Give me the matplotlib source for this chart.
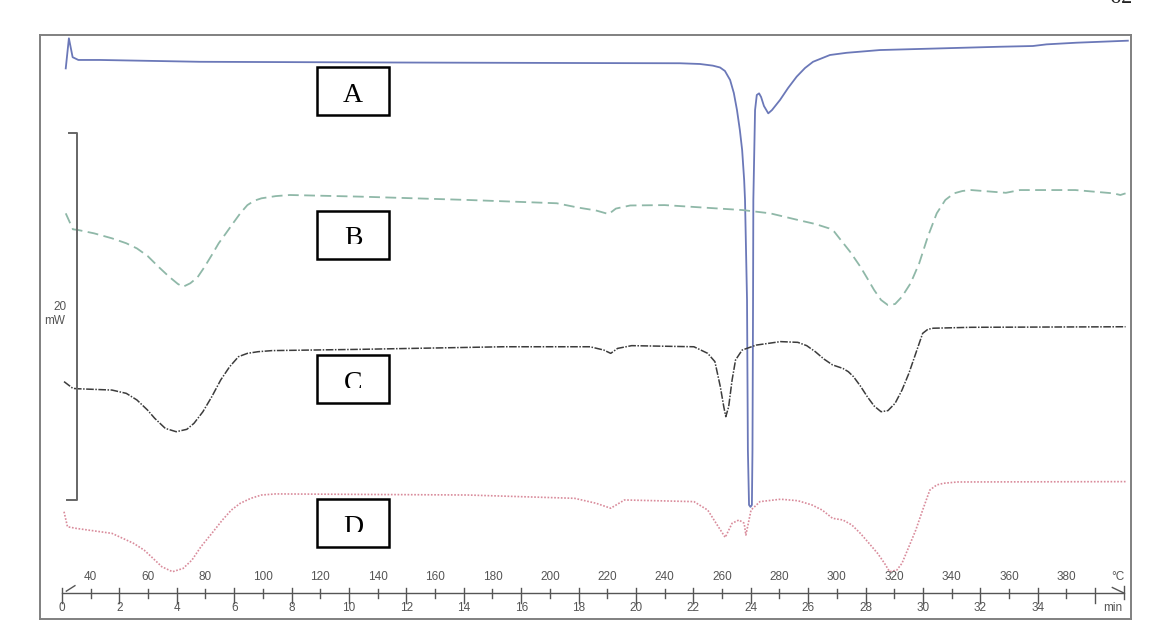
import matplotlib
matplotlib.use("Agg")
import matplotlib.pyplot as plt
from matplotlib.patches import Rectangle

# DSC thermograms, heat flow (mW) against temperature (deg C), 10 K/min from 30 deg C
a_temp = [31.3, 32.4, 33.7, 35.7, 43.2, 78.1, 147.8, 217.5, 245.3, 252.3, 256.8, 259.3, 261.0,
          262.8, 264.1, 265.2, 266.2, 267.0, 267.7, 268.0, 268.7, 269.0, 269.4, 269.9, 270.4,
          270.6, 270.8, 270.9, 271.5, 272.1, 272.9, 273.6, 274.6, 276.1, 277.4, 280.2, 283.0,
          286.0, 288.9, 291.7, 297.6, 303.4, 315.0, 356.8, 368.3, 373.1, 383.5, 401.4]
a_mw = [28.59, 30.23, 29.20, 29.05, 29.05, 28.95, 28.91, 28.88, 28.87, 28.83, 28.74, 28.64, 28.45,
        27.96, 27.25, 26.32, 25.23, 24.14, 22.51, 21.42, 15.97, 7.79, 4.80, 4.69, 4.80,
        7.79, 15.97, 21.42, 26.32, 27.14, 27.23, 27.03, 26.54, 26.14, 26.32, 26.87, 27.52,
        28.14, 28.61, 28.95, 29.32, 29.44, 29.59, 29.77, 29.81, 29.90, 29.99, 30.10]

b_temp = [31.3, 33.8, 35.7, 41.2, 47.4, 52.4, 56.1, 59.8, 63.6, 67.3, 70.4, 72.2, 74.7, 77.2,
          79.7, 82.2, 84.6, 87.1, 89.6, 92.1, 94.6, 97.0, 99.5, 104.5, 109.4, 134.2, 171.4,
          202.4, 210.0, 216.0, 220.5, 223.0, 228.0, 240.0, 267.1, 276.8, 286.4, 292.5, 297.3,
          299.1, 300.9, 304.6, 308.2, 310.6, 313.0, 315.4, 317.8, 320.3, 322.7, 325.7, 328.7,
          331.7, 334.8, 337.8, 340.8, 343.8, 346.8, 358.9, 363.8, 383.1, 396.4, 398.8, 400.6]
b_mw = [20.69, 19.82, 19.78, 19.60, 19.33, 19.06, 18.78, 18.37, 17.78, 17.24, 16.84, 16.69, 16.88,
        17.20, 17.78, 18.42, 19.06, 19.60, 20.15, 20.69, 21.14, 21.38, 21.51, 21.63, 21.69, 21.60,
        21.42, 21.24, 21.00, 20.85, 20.65, 20.95, 21.12, 21.14, 20.87, 20.69, 20.33, 20.11, 19.87,
        19.69, 19.33, 18.60, 17.78, 17.15, 16.51, 15.97, 15.69, 15.75, 16.15, 16.88, 17.97,
        19.42, 20.69, 21.42, 21.78, 21.91, 21.96, 21.81, 21.96, 21.96, 21.78, 21.69, 21.78]

c_temp = [30.7, 33.8, 35.7, 47.4, 52.4, 56.1, 59.8, 62.3, 66.0, 69.8, 73.5, 76.0, 79.1, 82.2,
          85.3, 88.4, 91.5, 94.6, 98.3, 103.2, 134.2, 183.8, 214.0, 218.8, 221.2, 223.6, 228.5,
          250.2, 255.0, 257.5, 259.4, 260.6, 261.3, 262.3, 263.5, 264.7, 267.0, 271.9, 280.4,
          286.4, 289.5, 292.5, 295.5, 298.5, 302.1, 304.0, 305.8, 308.2, 310.6, 313.0, 315.4,
          317.8, 320.3, 322.7, 325.1, 327.5, 329.9, 331.7, 333.6, 346.8, 400.6]
c_mw = [11.52, 11.15, 11.13, 11.06, 10.88, 10.52, 9.97, 9.52, 8.97, 8.79, 8.92, 9.25, 9.88, 10.70,
        11.61, 12.33, 12.88, 13.06, 13.15, 13.21, 13.28, 13.42, 13.42, 13.24, 13.06, 13.33, 13.48,
        13.42, 13.06, 12.61, 11.24, 10.15, 9.61, 10.15, 11.61, 12.70, 13.24, 13.51, 13.70,
        13.66, 13.48, 13.15, 12.75, 12.43, 12.24, 12.06, 11.79, 11.28, 10.70, 10.19, 9.88,
        9.94, 10.34, 11.06, 11.97, 13.06, 14.15, 14.37, 14.43, 14.48, 14.51]

d_temp = [30.7, 31.9, 35.0, 47.4, 54.9, 58.6, 61.1, 64.8, 68.5, 72.2, 75.3, 78.4, 82.2, 85.9,
          89.0, 92.1, 95.8, 99.5, 104.5, 171.4, 208.6, 216.1, 221.2, 226.0, 250.2, 255.0, 258.7,
          261.1, 263.5, 265.9, 267.7, 268.3, 270.1, 273.2, 280.4, 286.4, 291.3, 294.9, 298.5,
          302.1, 305.2, 308.2, 311.2, 314.2, 316.6, 318.4, 320.9, 322.7, 325.1, 327.5, 329.9,
          332.4, 334.8, 337.2, 342.0, 400.6]
d_mw = [4.43, 3.61, 3.52, 3.25, 2.71, 2.34, 1.98, 1.43, 1.16, 1.34, 1.80, 2.52, 3.25, 3.98,
        4.52, 4.89, 5.16, 5.34, 5.40, 5.34, 5.16, 4.89, 4.62, 5.07, 4.98, 4.52, 3.61,
        3.03, 3.80, 3.98, 3.80, 3.16, 4.52, 4.98, 5.11, 5.03, 4.80, 4.52, 4.07,
        3.98, 3.71, 3.25, 2.71, 2.16, 1.62, 1.16, 1.25, 1.62, 2.52, 3.43, 4.52,
        5.61, 5.89, 5.98, 6.05, 6.07]

labels = ["A", "B", "C", "D"]
temp_ticks = list(range(40, 400, 20))
time_ticks = list(range(0, 37))
time_labels = list(range(0, 36, 2))
scale_mw = 20

start_temp = 30
rate = 10  # K/min


def t2temp(t):
    return start_temp + rate * t


fig = plt.figure(figsize=(11.7, 6.37), dpi=100)
fig.patch.set_facecolor("white")
ax = fig.add_axes([40 / 1170, 1 - 619 / 637, 1091 / 1170, 584 / 637])
ax.set_xlim(22.33, 402.5)
ax.set_ylim(-1.417, 30.41)
ax.set_xticks([])
ax.set_yticks([])
for s in ax.spines.values():
    s.set_color("#808080")
    s.set_linewidth(1.4)

px_x = 1 / 2.87     # deg C per pixel
px_y = 1 / 18.35    # mW per pixel
grey = "#555555"
tick_font = dict(fontsize=8.5, color=grey, family="Liberation Sans")

ax.plot(a_temp, a_mw, color="#6b78b8", lw=1.3, solid_joinstyle="round")
ax.plot(b_temp, b_mw, color="#8fb8a8", lw=1.3, linestyle=(0, (6, 3)))
ax.plot(c_temp, c_mw, color="#3c3c3c", lw=1.1, linestyle=(0, (5, 1, 1, 1)))
ax.plot(d_temp, d_mw, color="#d98b9b", lw=1.2, linestyle=(0, (1, 1)))

# labelled boxes, lower letters trimmed at the bottom
box_top = [28.66, 20.82, 12.97, 5.12]
bx0 = 118.9
bw = 72 * px_x
bh = 48 * px_y
for i, lab in enumerate(labels):
    top = box_top[i]
    ax.text(bx0 + bw / 2, top - 28 * px_y, lab, ha="center", va="center",
            fontsize=20, family="Liberation Serif", color="black", zorder=5)
    if i > 0:
        ax.add_patch(Rectangle((bx0 + 2 * px_x, top - bh + 1.5 * px_y), bw - 4 * px_x,
                               bh - 34.5 * px_y, facecolor="white", edgecolor="none", zorder=6))
    ax.add_patch(Rectangle((bx0, top - bh), bw, bh, facecolor="none", edgecolor="black",
                           lw=1.8, zorder=7))

# 20 mW scale bar
sx = 30 + (77 - 62) * px_x
ax.plot([sx - 8 * px_x, sx, sx, sx - 10 * px_x], [25.07, 25.07, 25.07 - scale_mw, 25.07 - scale_mw],
        color="#666666", lw=1.4)
ax.text(sx - 17 * px_x, 15.6, str(scale_mw), ha="center", va="center", **tick_font)
ax.text(sx - 22 * px_x, 14.85, "mW", ha="center", va="center", **tick_font)

# time / temperature axis
ax.plot([t2temp(0), t2temp(37)], [0, 0], color=grey, lw=1.0)
for t in time_ticks:
    if t % 2 == 1:
        ax.plot([t2temp(t)] * 2, [0.22, -0.27], color=grey, lw=1.0)
    else:
        ax.plot([t2temp(t)] * 2, [0.27, -0.55], color=grey, lw=1.0)
for T in temp_ticks:
    ax.text(T, 0.87, str(T), ha="center", va="center", **tick_font)
for t in time_labels:
    ax.text(t2temp(t), -0.82, str(t), ha="center", va="center", **tick_font)
ax.text(t2temp(37) - 2, 0.87, "°C", ha="center", va="center", **tick_font)
ax.text(t2temp(37) - 4, -0.82, "min", ha="center", va="center", **tick_font)
ax.plot([t2temp(0) + 1.5, t2temp(0) + 4.5], [0.1, 0.4], color=grey, lw=1.0)
ax.plot([t2temp(37)] * 2, [0.4, -0.3], color=grey, lw=1.0)
ax.plot([t2temp(37) - 4, t2temp(37)], [0.3, 0.0], color=grey, lw=1.0)

fig.text(1121 / 1170, 1 - 3 / 637, "62", ha="center", va="baseline", fontsize=16,
         family="Liberation Serif", color="#222222")

fig.savefig("out.png", dpi=100, facecolor="white")
